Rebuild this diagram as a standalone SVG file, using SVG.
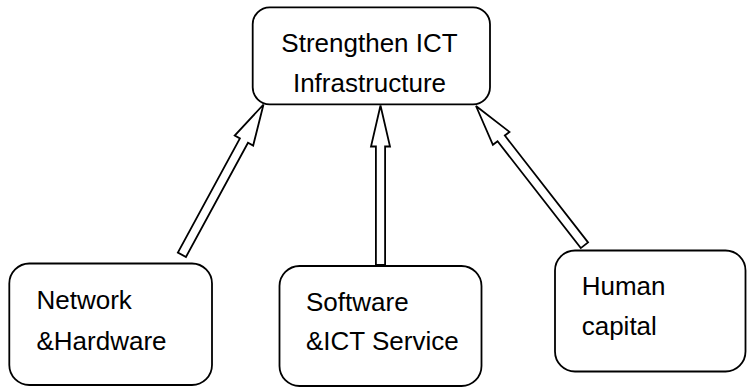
<svg xmlns="http://www.w3.org/2000/svg" width="747" height="387" viewBox="0 0 747 387">
<style>
.box{fill:#fff;stroke:#000;stroke-width:1.8}
.lbl{font-family:"Liberation Sans","Open Sans",Arial,sans-serif;font-size:26px;fill:#000}
.arr{fill:#fff;stroke:#000;stroke-width:1.8;stroke-linejoin:miter}
</style>
<rect width="747" height="387" fill="#fff"/>
<g id="connectors">
<polygon class="arr" transform="translate(263.5,104.5) rotate(28.5)" points="0,0 10.5,41 4.6,41 4.6,171 -4.6,171 -4.6,41 -10.5,41"/>
<polygon class="arr" transform="translate(380.5,105.5)" points="0,0 9.5,41 4.6,41 4.6,159.5 -4.6,159.5 -4.6,41 -9.5,41"/>
<polygon class="arr" transform="translate(476,106) rotate(-37.9)" points="0,0 10.5,41 4.6,41 4.6,176.5 -4.6,176.5 -4.6,41 -10.5,41"/>
</g>
<g id="node-top">
<rect class="box" x="252.7" y="7.3" width="237.3" height="97" rx="17"/>
<text class="lbl" x="369.5" y="52" text-anchor="middle">Strengthen ICT</text>
<text class="lbl" x="369.5" y="91.5" text-anchor="middle">Infrastructure</text>
</g>
<g id="node-network">
<rect class="box" x="9.3" y="263.5" width="202.7" height="121.5" rx="20"/>
<text class="lbl" x="36.5" y="309">Network</text>
<text class="lbl" x="36.5" y="350">&amp;Hardware</text>
</g>
<g id="node-software">
<rect class="box" x="279.5" y="266" width="202" height="120" rx="20"/>
<text class="lbl" x="306" y="311">Software</text>
<text class="lbl" x="306" y="350">&amp;ICT Service</text>
</g>
<g id="node-human">
<rect class="box" x="555" y="250.5" width="190.5" height="121" rx="20"/>
<text class="lbl" x="581.7" y="295">Human</text>
<text class="lbl" x="581.7" y="335">capital</text>
</g>
</svg>
